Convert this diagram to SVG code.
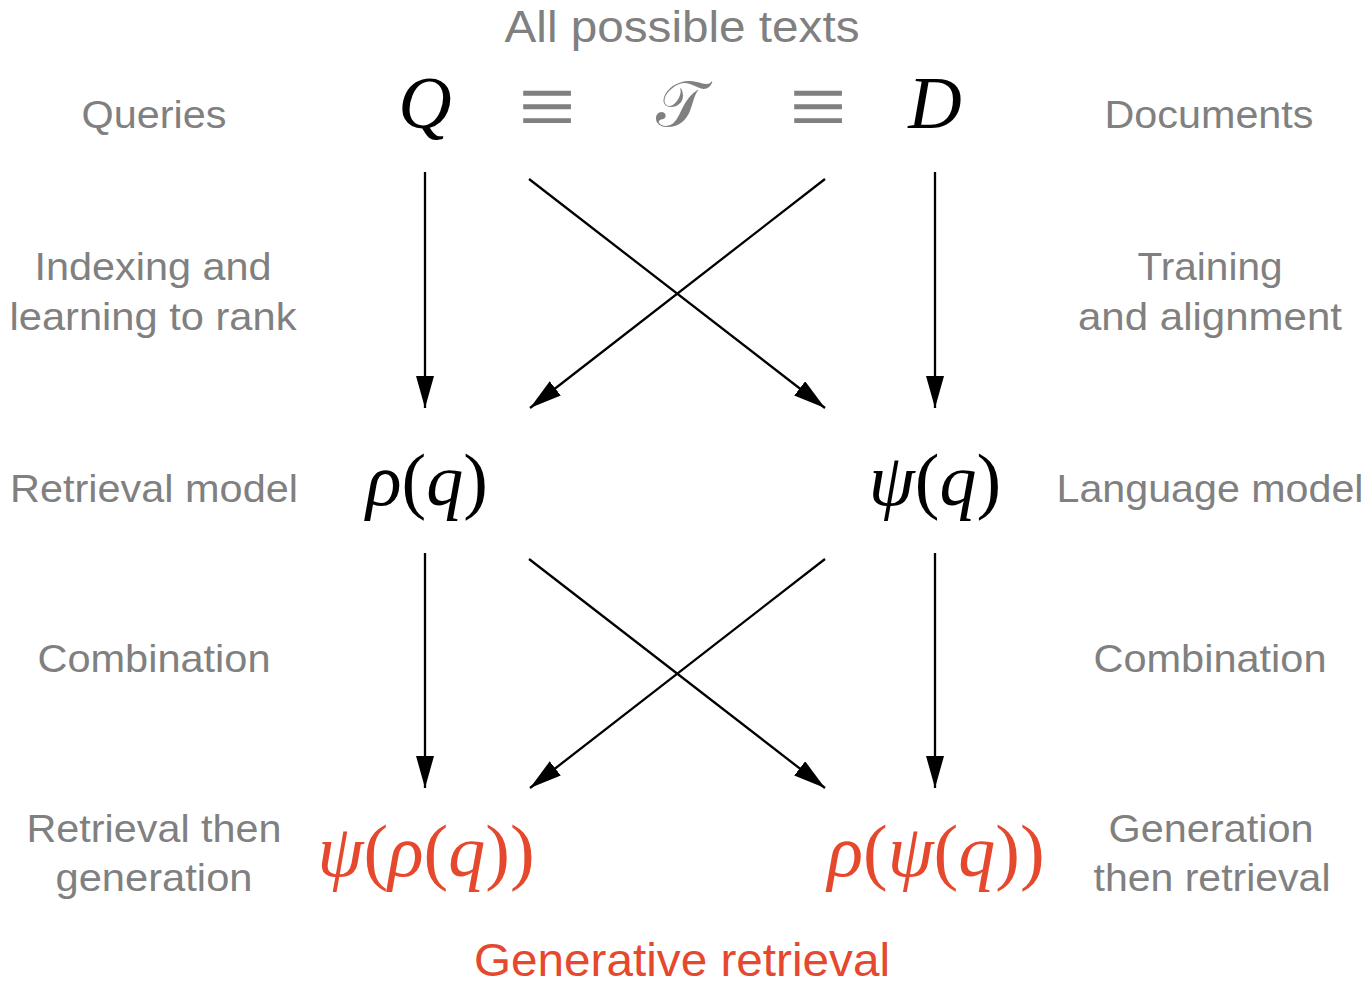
<svg xmlns="http://www.w3.org/2000/svg" width="1366" height="985" viewBox="0 0 1366 985">
<defs>
<marker id="ah" markerUnits="userSpaceOnUse" markerWidth="32" markerHeight="18" viewBox="0 0 32 18" refX="32" refY="9" orient="auto">
<path d="M0,0 L32,9 L0,18 Z" fill="#000"/>
</marker>
<style>
.lab{font-family:"Liberation Sans",Arial,sans-serif;font-size:39px;fill:#808080;text-anchor:middle}
.title{font-family:"Liberation Sans",Arial,sans-serif;font-size:44px;fill:#808080;text-anchor:middle}
.math{font-family:"Liberation Serif","DejaVu Serif",serif;font-style:italic;font-size:74px;fill:#000;text-anchor:middle}
.up{font-style:normal}
.eq{font-family:"Liberation Serif",serif;font-size:84px;fill:#808080;text-anchor:middle}
.cal{font-family:"DejaVu Serif",serif;font-size:64px;fill:#808080;text-anchor:middle}
.red{fill:#E5482C}
.math.red,.title.red{fill:#E5482C}
.arr{stroke:#000;stroke-width:2.3;fill:none;marker-end:url(#ah)}
</style>
</defs>
<rect width="1366" height="985" fill="#fff"/>
<g id="title"><text class="title" x="682" y="42" textLength="355" lengthAdjust="spacingAndGlyphs">All possible texts</text></g>
<g id="top-row">
<text class="math" x="425" y="128">Q</text>
<text class="eq" transform="translate(547,109) scale(1.22,1.15) translate(-547,-109)" x="547" y="135">≡</text>
<text class="cal" x="680" y="126">𝒯</text>
<text class="eq" transform="translate(818,109) scale(1.22,1.15) translate(-818,-109)" x="818" y="135">≡</text>
<text class="math" x="935" y="128">D</text>
</g>
<g id="labels-left">
<text class="lab" x="154" y="128" textLength="145" lengthAdjust="spacingAndGlyphs">Queries</text>
<text class="lab" x="153" y="280" textLength="237" lengthAdjust="spacingAndGlyphs">Indexing and</text>
<text class="lab" x="153" y="330" textLength="287" lengthAdjust="spacingAndGlyphs">learning to rank</text>
<text class="lab" x="154" y="502" textLength="288" lengthAdjust="spacingAndGlyphs">Retrieval model</text>
<text class="lab" x="154" y="672" textLength="233" lengthAdjust="spacingAndGlyphs">Combination</text>
<text class="lab" x="154" y="842" textLength="255" lengthAdjust="spacingAndGlyphs">Retrieval then</text>
<text class="lab" x="154" y="891" textLength="197" lengthAdjust="spacingAndGlyphs">generation</text>
</g>
<g id="labels-right">
<text class="lab" x="1209" y="128" textLength="209" lengthAdjust="spacingAndGlyphs">Documents</text>
<text class="lab" x="1210" y="280" textLength="145" lengthAdjust="spacingAndGlyphs">Training</text>
<text class="lab" x="1210" y="330" textLength="264" lengthAdjust="spacingAndGlyphs">and alignment</text>
<text class="lab" x="1210" y="502" textLength="307" lengthAdjust="spacingAndGlyphs">Language model</text>
<text class="lab" x="1210" y="672" textLength="233" lengthAdjust="spacingAndGlyphs">Combination</text>
<text class="lab" x="1211" y="842" textLength="205" lengthAdjust="spacingAndGlyphs">Generation</text>
<text class="lab" x="1212" y="891" textLength="237" lengthAdjust="spacingAndGlyphs">then retrieval</text>
</g>
<g id="rho-q"><text class="math" x="427" y="505">ρ<tspan class="up">(</tspan>q<tspan class="up">)</tspan></text></g>
<g id="psi-q"><text class="math" x="935" y="505">ψ<tspan class="up">(</tspan>q<tspan class="up">)</tspan></text></g>
<g id="psi-rho-q"><text class="math red" x="426" y="876">ψ<tspan class="up">(</tspan>ρ<tspan class="up">(</tspan>q<tspan class="up">))</tspan></text></g>
<g id="rho-psi-q"><text class="math red" x="936" y="876">ρ<tspan class="up">(</tspan>ψ<tspan class="up">(</tspan>q<tspan class="up">))</tspan></text></g>
<g id="bottom-title"><text class="title red" x="682" y="976" style="font-size:46px" textLength="416" lengthAdjust="spacingAndGlyphs">Generative retrieval</text></g>
<g id="connectors">
<line class="arr" x1="425" y1="172" x2="425" y2="408"/>
<line class="arr" x1="529" y1="179" x2="825" y2="408"/>
<line class="arr" x1="825" y1="179" x2="530" y2="408"/>
<line class="arr" x1="935" y1="172" x2="935" y2="408"/>
<line class="arr" x1="425" y1="553" x2="425" y2="788"/>
<line class="arr" x1="529" y1="559" x2="825" y2="788"/>
<line class="arr" x1="825" y1="559" x2="530" y2="788"/>
<line class="arr" x1="935" y1="553" x2="935" y2="788"/>
</g>
</svg>
